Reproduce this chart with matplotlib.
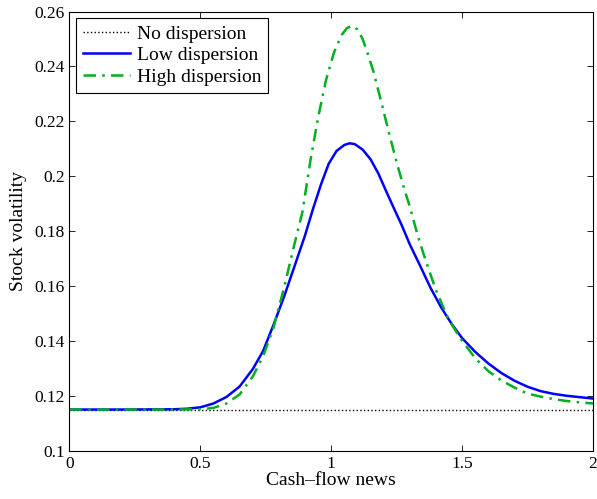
import matplotlib
matplotlib.use("Agg")
import matplotlib.pyplot as plt

plt.rcParams["font.family"] = ["Liberation Serif", "DejaVu Serif"]

# ── Data ─────────────────────────────────────────────────────────────────────
x_flat = [0.0, 2.0]
y_flat = [0.115, 0.115]

x_low = [0.0, 0.2, 0.4, 0.45, 0.5, 0.55, 0.6, 0.65, 0.7, 0.74, 0.78, 0.82,
         0.86, 0.9, 0.93, 0.96, 0.99, 1.02, 1.05, 1.07, 1.09, 1.12, 1.15,
         1.18, 1.21, 1.24, 1.27, 1.3, 1.34, 1.38, 1.42, 1.46, 1.5, 1.55,
         1.6, 1.65, 1.7, 1.75, 1.8, 1.85, 1.9, 1.95, 2.0]
y_low = [0.115, 0.115, 0.1151, 0.1153, 0.1158, 0.1172, 0.1196, 0.1234,
         0.1297, 0.1364, 0.1460, 0.1562, 0.1673, 0.1785, 0.1880, 0.1968,
         0.2045, 0.2092, 0.2114, 0.2120, 0.2117, 0.2097, 0.2062, 0.2010,
         0.1945, 0.1882, 0.1820, 0.1752, 0.1673, 0.1592, 0.1522, 0.1462,
         0.1410, 0.1360, 0.1318, 0.1283, 0.1255, 0.1233, 0.1217, 0.1207,
         0.1200, 0.1195, 0.1190]

x_high = [0.0, 0.2, 0.4, 0.5, 0.55, 0.6, 0.65, 0.7, 0.74, 0.78, 0.82, 0.86,
          0.89, 0.92, 0.95, 0.98, 1.01, 1.04, 1.06, 1.08, 1.10, 1.12, 1.14,
          1.16, 1.19, 1.22, 1.25, 1.28, 1.30, 1.33, 1.36, 1.4, 1.45, 1.5,
          1.55, 1.6, 1.65, 1.7, 1.75, 1.8, 1.85, 1.9, 1.95, 2.0]
y_high = [0.115, 0.115, 0.115, 0.1151, 0.1156, 0.1172, 0.1205, 0.1270,
          0.1345, 0.1450, 0.1595, 0.1755, 0.1870, 0.2055, 0.2215, 0.2350,
          0.2450, 0.2515, 0.2540, 0.2548, 0.2535, 0.2500, 0.2445, 0.2385,
          0.2275, 0.2160, 0.2050, 0.1950, 0.1890, 0.1785, 0.1695, 0.1585,
          0.1475, 0.1400, 0.1337, 0.1290, 0.1256, 0.1230, 0.1208, 0.1197,
          0.1188, 0.1181, 0.1176, 0.1172]

x_ticks = [0, 0.5, 1, 1.5, 2]
x_labels = ["0", "0.5", "1", "1.5", "2"]
y_ticks = [0.10, 0.12, 0.14, 0.16, 0.18, 0.20, 0.22, 0.24, 0.26]
y_labels = ["0.1", "0.12", "0.14", "0.16", "0.18", "0.2", "0.22", "0.24", "0.26"]

# ── Plot ─────────────────────────────────────────────────────────────────────
fig = plt.figure(figsize=(5.97, 4.99), dpi=100)
ax = fig.add_axes([0.1164, 0.0968, 0.8769, 0.880])

ax.plot(x_flat, y_flat, color="black", linestyle=":", linewidth=1.0,
        label="No dispersion")
ax.plot(x_low, y_low, color="#0000ff", linestyle="-", linewidth=1.8,
        label="Low dispersion")
ax.plot(x_high, y_high, color="#00b020", linewidth=1.8,
        dashes=[5, 2.5, 1, 2.5], label="High dispersion")

ax.set_xlim(0, 2)
ax.set_ylim(0.1, 0.26)
ax.set_xticks(x_ticks)
ax.set_xticklabels(x_labels)
ax.set_yticks(y_ticks)
ax.set_yticklabels(y_labels)
ax.tick_params(direction="in", top=True, right=True, labelsize=12.5,
               length=4, width=0.6)
for sp in ax.spines.values():
    sp.set_linewidth(0.8)

ax.set_xlabel("Cash\u2013flow news", fontsize=14, labelpad=0)
ax.set_ylabel("Stock volatility", fontsize=14, labelpad=5)

leg = ax.legend(loc="upper left", fontsize=14, handlelength=2.4,
                fancybox=False, edgecolor="black", framealpha=1,
                borderpad=0.35, labelspacing=0.2, handletextpad=0.35,
                borderaxespad=0.35)
leg.get_frame().set_linewidth(0.8)

fig.savefig("out.png", dpi=100)
